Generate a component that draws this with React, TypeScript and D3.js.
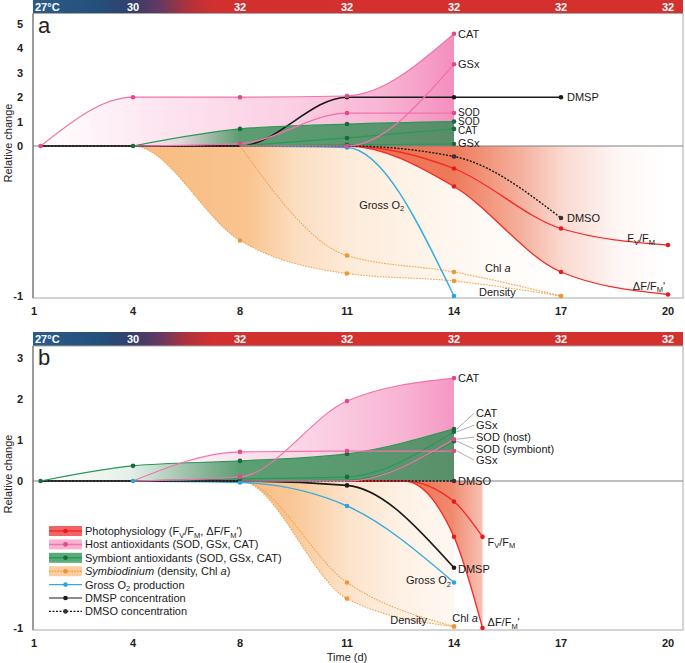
import React from "react";
import * as d3 from "d3";

const W = 685;
const H = 663;
const FONT = "'Liberation Sans', Arial, Helvetica, sans-serif";

const tickDays = [1, 4, 8, 11, 14, 17, 20];
const tempLabels = ["27°C", "30", "32", "32", "32", "32", "32"];
const yTicksA = [-1, 0, 1, 2, 3, 4, 5];
const yTicksB = [-1, 0, 1, 2, 3];

type Group = "photo" | "host" | "sym" | "symbio" | "o2" | "dmsp" | "dmso";
type Series = { group: Group; days: number[]; values: number[]; firstDot: number };

// ---- panel a ----
const aHostCAT: Series = { group: "host", days: [1.2, 4, 8, 11, 14], values: [0, 2, 2, 2.05, 4.6], firstDot: 0 };
const aHostSOD: Series = { group: "host", days: [4, 8, 11, 14], values: [0, 0.1, 1.35, 1.35], firstDot: 1 };
const aHostGSx: Series = { group: "host", days: [8, 11, 14], values: [0, 0, 3.35], firstDot: 1 };
const aSymSOD: Series = { group: "sym", days: [4, 8, 11, 14], values: [0, 0.7, 0.9, 1.0], firstDot: 0 };
const aSymCAT: Series = { group: "sym", days: [8, 11, 14], values: [0, 0.33, 0.7], firstDot: 1 };
const aSymGSx: Series = { group: "sym", days: [8, 11, 14], values: [0, 0.05, 0.08], firstDot: 1 };
const aFvFm: Series = { group: "photo", days: [8, 11, 14, 17, 20], values: [0, 0, -0.15, -0.55, -0.66], firstDot: 2 };
const aDFFm: Series = { group: "photo", days: [8, 11, 14, 17, 20], values: [0, 0, -0.27, -0.84, -0.99], firstDot: 2 };
const aDensity: Series = { group: "symbio", days: [1.2, 4, 8, 11, 14, 17], values: [0, 0, -0.63, -0.85, -0.9, -1.0], firstDot: 2 };
const aChl: Series = { group: "symbio", days: [8, 11, 14, 17], values: [0, -0.73, -0.84, -1.0], firstDot: 1 };
const aO2: Series = { group: "o2", days: [8, 11, 14], values: [0, -0.01, -1.0], firstDot: 1 };
const aDMSP: Series = { group: "dmsp", days: [1.2, 8, 11, 14, 17], values: [0, 0, 2, 2, 2], firstDot: 2 };
const aDMSO: Series = { group: "dmso", days: [1.2, 11, 14, 17], values: [0, 0, -0.07, -0.48], firstDot: 2 };

// ---- panel b ----
const bHostCAT: Series = { group: "host", days: [4, 8, 11, 14], values: [0, 0.1, 1.95, 2.51], firstDot: 1 };
const bHostGSx: Series = { group: "host", days: [4, 8, 11, 14], values: [0, 0.71, 0.73, 0.73], firstDot: 1 };
const bHostSOD: Series = { group: "host", days: [8, 11, 14], values: [0, 0, 1.02], firstDot: 2 };
const bSymCAT: Series = { group: "sym", days: [1.2, 4, 8, 11, 14], values: [0, 0.37, 0.49, 0.66, 1.27], firstDot: 0 };
const bSymGSx: Series = { group: "sym", days: [4, 8, 11, 14], values: [0, 0.05, 0.1, 1.2], firstDot: 1 };
const bSymSOD: Series = { group: "sym", days: [8, 11, 14], values: [0, 0.02, 0.97], firstDot: 2 };
const bFvFm: Series = { group: "photo", days: [11, 12.6, 14, 14.8], values: [0, 0, -0.14, -0.38], firstDot: 2 };
const bDFFm: Series = { group: "photo", days: [11, 12.6, 14, 14.8], values: [0, 0, -0.38, -1.0], firstDot: 2 };
const bDensity: Series = { group: "symbio", days: [4, 8, 11, 14], values: [0, 0, -0.8, -0.99], firstDot: 2 };
const bChl: Series = { group: "symbio", days: [4, 8, 11, 14], values: [0, 0, -0.69, -0.99], firstDot: 2 };
const bO2: Series = { group: "o2", days: [4, 8, 11, 14], values: [0, -0.01, -0.17, -0.69], firstDot: 0 };
const bDMSP: Series = { group: "dmsp", days: [1.2, 8, 11, 14], values: [0, 0, -0.03, -0.59], firstDot: 2 };
const bDMSO: Series = { group: "dmso", days: [1.2, 14], values: [0, 0], firstDot: 1 };

const legendGroups: Group[] = ["photo", "host", "sym", "symbio", "o2", "dmsp", "dmso"];
const legendNames = [
  "Photophysiology (F_V/F_M, ΔF/F_M')",
  "Host antioxidants (SOD, GSx, CAT)",
  "Symbiont antioxidants (SOD, GSx, CAT)",
  "*Symbiodinium* (density, Chl *a*)",
  "Gross O_2 production",
  "DMSP concentration",
  "DMSO concentration",
];

const groupStyle: Record<Group, { line: string; dot: string; band?: string; dash?: string; width: number }> = {
  photo: { line: "#f42a2a", dot: "#e41c1c", band: "#f24848", width: 1.3 },
  host: { line: "#f372ab", dot: "#e2488b", band: "#f7a8ca", width: 1.2 },
  sym: { line: "#2a9858", dot: "#176b3b", band: "#3c9c60", width: 1.2 },
  symbio: { line: "#f5a24c", dot: "#f29335", band: "#fbc48e", dash: "1.6,1.2", width: 1.1 },
  o2: { line: "#35ace0", dot: "#2ba4dc", width: 1.4 },
  dmsp: { line: "#1a1a1a", dot: "#1a1a1a", width: 1.6 },
  dmso: { line: "#1a1a1a", dot: "#333333", dash: "2,1.5", width: 1.4 },
};

// x: tick days sit evenly spaced (the first interval is narrower)
const xStep = d3.scalePoint<number>().domain(tickDays.slice(1)).range([133, 668]);
const X = d3
  .scaleLinear()
  .domain(tickDays)
  .range([34, ...tickDays.slice(1).map((d) => xStep(d) as number)]);
const X0 = 33;
const X1 = 683;

const tempStops: [number, string][] = [
  [1, "#2c5b88"], [3, "#234f7b"], [4, "#353f6b"], [5, "#663862"], [6, "#ae323c"], [7, "#d2302f"], [20, "#d4302e"],
];

type Lab = { text: string; day: number; value: number; dx: number; dy: number; anchor?: "start" | "end"; size?: number };
type Leader = { text: string; day: number; value: number; labelValue: number };
type Fill = { id: string; s: Series[]; from: number; to: number; stops: [number, string, number][] };
type PanelCfg = {
  letter: string;
  barTop: number;
  barH: number;
  bottom: number;
  yDomain: number[];
  yRange: number[];
  yTicks: number[];
  yLabelCenter: number;
  tickLabelY: number;
  fills: Fill[];
  series: Series[];
  labels: Lab[];
  leaders: Leader[];
  legend: boolean;
};

const pinkA: [number, string, number][] = [[0, "#ffffff", 1], [0.3, "#fde4f0", 1], [0.6, "#fbd0e4", 1], [0.82, "#f8b6d4", 1], [1, "#f48fbf", 1]];
const pinkB: [number, string, number][] = [[0, "#ffffff", 1], [0.35, "#fde1ee", 1], [0.6, "#fbcfe3", 1], [0.85, "#f8b2d2", 1], [1, "#f597c3", 1]];
const greenStops: [number, string, number][] = [[0, "#2e8c50", 0], [0.45, "#2e8c50", 0.13], [1, "#2e8c50", 0.78]];
const orangeA: [number, string, number][] = [[0, "#f5a04c", 0.72], [0.27, "#f5a04c", 0.62], [0.38, "#f5a04c", 0.35], [0.52, "#f5a04c", 0.2], [0.75, "#f5a04c", 0.08], [1, "#f5a04c", 0]];
const orangeB: [number, string, number][] = [[0, "#f5a04c", 0.72], [0.25, "#f5a04c", 0.58], [0.5, "#f5a04c", 0.3], [0.75, "#f5a04c", 0.15], [1, "#f5a04c", 0.07]];
const redA: [number, string, number][] = [[0, "#ea5a34", 0.85], [0.33, "#ea5a34", 0.8], [0.55, "#ea5a34", 0.45], [0.68, "#ea5a34", 0.22], [0.85, "#ea5a34", 0.05], [1, "#ea5a34", 0]];
const redB: [number, string, number][] = [[0, "#ea5a34", 0.85], [0.4, "#ea5a34", 0.7], [0.7, "#ea5a34", 0.3], [1, "#ea5a34", 0]];

const panelA: PanelCfg = {
  letter: "a",
  barTop: 0,
  barH: 13.5,
  bottom: 298,
  yDomain: [-1, 0, 5],
  yRange: [296, 146, 24],
  yTicks: yTicksA,
  yLabelCenter: 143,
  tickLabelY: 315,
  fills: [
    { id: "pinkA", s: [aHostCAT], from: 1.2, to: 14, stops: pinkA },
    { id: "greenA", s: [aSymSOD], from: 4, to: 8, stops: greenStops },
    { id: "orangeA", s: [aDensity], from: 4, to: 17, stops: orangeA },
    { id: "redA", s: [aDFFm], from: 11, to: 20, stops: redA },
  ],
  series: [aFvFm, aDFFm, aDensity, aChl, aO2, aDMSO, aDMSP, aSymSOD, aSymCAT, aSymGSx, aHostCAT, aHostSOD, aHostGSx],
  labels: [
    { text: "CAT", day: 14, value: 4.6, dx: 4, dy: 0 },
    { text: "GSx", day: 14, value: 3.35, dx: 4, dy: 0 },
    { text: "SOD", day: 14, value: 1.35, dx: 4, dy: -1.5, size: 10 },
    { text: "SOD", day: 14, value: 1.0, dx: 4, dy: -1, size: 10 },
    { text: "CAT", day: 14, value: 0.7, dx: 4, dy: 1, size: 10 },
    { text: "GSx", day: 14, value: 0.08, dx: 4, dy: -1 },
    { text: "DMSP", day: 17, value: 2, dx: 6, dy: 0 },
    { text: "DMSO", day: 17, value: -0.48, dx: 6, dy: 0 },
    { text: "F_V/F_M", day: 20, value: -0.66, dx: -13, dy: -7, anchor: "end" },
    { text: "ΔF/F_M'", day: 20, value: -0.99, dx: -3, dy: -9, anchor: "end" },
    { text: "Gross O_2", day: 11.34, value: -0.39, dx: 0, dy: 0 },
    { text: "Chl *a*", day: 14.87, value: -0.81, dx: 0, dy: 0 },
    { text: "Density", day: 14.7, value: -0.97, dx: 0, dy: 0 },
  ],
  leaders: [],
  legend: false,
};

const panelB: PanelCfg = {
  letter: "b",
  barTop: 332,
  barH: 14,
  bottom: 630,
  yDomain: [-1, 0, 3],
  yRange: [628, 481, 358],
  yTicks: yTicksB,
  yLabelCenter: 474,
  tickLabelY: 647,
  fills: [
    { id: "pinkB", s: [bHostCAT, bHostGSx], from: 4, to: 14, stops: pinkB },
    { id: "greenB", s: [bSymCAT], from: 1.2, to: 8, stops: greenStops },
    { id: "orangeB", s: [bDensity], from: 8, to: 14, stops: orangeB },
    { id: "redB", s: [bDFFm], from: 12.6, to: 16, stops: redB },
  ],
  series: [bFvFm, bDFFm, bDensity, bChl, bO2, bDMSO, bDMSP, bSymCAT, bSymGSx, bSymSOD, bHostCAT, bHostGSx, bHostSOD],
  labels: [
    { text: "CAT", day: 14, value: 2.51, dx: 4, dy: 0 },
    { text: "DMSO", day: 14, value: 0, dx: 4, dy: 0 },
    { text: "DMSP", day: 14, value: -0.59, dx: 4, dy: 1 },
    { text: "Gross O_2", day: 14, value: -0.69, dx: -3, dy: -2, anchor: "end" },
    { text: "F_V/F_M", day: 14.8, value: -0.38, dx: 5, dy: 5 },
    { text: "ΔF/F_M'", day: 14.8, value: -1.0, dx: 5, dy: -6 },
    { text: "Density", day: 13.24, value: -0.946, dx: 0, dy: 0, anchor: "end" },
    { text: "Chl *a*", day: 13.95, value: -0.93, dx: 0, dy: 0 },
  ],
  leaders: [
    { text: "CAT", day: 14, value: 1.27, labelValue: 1.65 },
    { text: "GSx", day: 14, value: 1.2, labelValue: 1.36 },
    { text: "SOD (host)", day: 14, value: 1.02, labelValue: 1.07 },
    { text: "SOD (symbiont)", day: 14, value: 0.97, labelValue: 0.78 },
    { text: "GSx", day: 14, value: 0.73, labelValue: 0.51 },
  ],
  legend: true,
};

function segs(s: string) {
  const out: { t: string; it: boolean; sub: boolean }[] = [];
  let it = false;
  for (let i = 0; i < s.length; i++) {
    const c = s[i];
    if (c === "*") {
      it = !it;
      continue;
    }
    if (c === "_") {
      out.push({ t: s[i + 1], it, sub: true });
      i++;
      continue;
    }
    const last = out[out.length - 1];
    if (last && !last.sub && last.it === it) last.t += c;
    else out.push({ t: c, it, sub: false });
  }
  return out;
}

function Rich({ s }: { s: string }) {
  let shift = 0;
  return (
    <>
      {segs(s).map((g, i) => {
        const target = g.sub ? 2.5 : 0;
        const dy = target - shift;
        shift = target;
        return (
          <tspan key={i} dy={dy} fontSize={g.sub ? "0.68em" : undefined} fontStyle={g.it ? "italic" : undefined}>
            {g.t}
          </tspan>
        );
      })}
    </>
  );
}

function Panel({ p }: { p: PanelCfg }) {
  const y = d3.scaleLinear().domain(p.yDomain).range(p.yRange);
  const top = p.barTop + p.barH;
  const toPts = (s: Series) => s.days.map((d, i) => [X(d), y(s.values[i])] as [number, number]);
  const line = d3.line().curve(d3.curveMonotoneX);
  const area = d3
    .area<[number, number]>()
    .x((d) => d[0])
    .y0(y(0))
    .y1((d) => d[1])
    .curve(d3.curveMonotoneX);

  return (
    <g>
      <defs>
        {p.fills.map((f) => (
          <linearGradient key={f.id} id={f.id} gradientUnits="userSpaceOnUse" x1={X(f.from)} x2={X(f.to)} y1={0} y2={0}>
            {f.stops.map(([o, c, a], i) => (
              <stop key={i} offset={o} stopColor={c} stopOpacity={a} />
            ))}
          </linearGradient>
        ))}
      </defs>

      {/* temperature bar */}
      <rect x={X0} y={p.barTop} width={X1 - X0} height={p.barH} fill="url(#tempGrad)" />
      {tickDays.map((d, i) => (
        <text
          key={"t" + i}
          x={i === 0 ? X(d) + 1 : X(d)}
          y={p.barTop + p.barH - 3}
          textAnchor={i === 0 ? "start" : "middle"}
          fill="#fff"
          fontSize={11}
          fontWeight="bold"
        >
          {tempLabels[i]}
        </text>
      ))}

      <rect x={X0} y={top} width={X1 - X0} height={p.bottom - top} fill="none" stroke="#a8a8a8" strokeWidth={1} />

      {/* shaded bands */}
      {p.fills.flatMap((f) =>
        f.s.map((s, j) => <path key={f.id + j} d={area(toPts(s)) || ""} fill={`url(#${f.id})`} />)
      )}

      <line x1={X0} x2={X1} y1={y(0)} y2={y(0)} stroke="#808080" strokeWidth={1} />

      {/* lines */}
      {p.series.map((s, i) => {
        const st = groupStyle[s.group];
        return (
          <path
            key={"l" + i}
            d={line(toPts(s)) || ""}
            fill="none"
            stroke={st.line}
            strokeWidth={st.width}
            strokeDasharray={st.dash}
          />
        );
      })}

      {/* dots */}
      {p.series.map((s, i) =>
        toPts(s)
          .slice(s.firstDot)
          .map((pt, j) => <circle key={"d" + i + "_" + j} cx={pt[0]} cy={pt[1]} r={2.3} fill={groupStyle[s.group].dot} />)
      )}

      {/* labels */}
      {p.labels.map((l, i) => (
        <text
          key={"lab" + i}
          x={X(l.day) + l.dx}
          y={y(l.value) + l.dy + 4}
          textAnchor={l.anchor || "start"}
          fontSize={l.size || 11}
          fill="#1a1a1a"
        >
          <Rich s={l.text} />
        </text>
      ))}
      {p.leaders.map((l, i) => (
        <g key={"ld" + i}>
          <line x1={X(l.day) + 3} y1={y(l.value)} x2={X(l.day) + 20} y2={y(l.labelValue)} stroke="#8a8a8a" strokeWidth={0.7} />
          <text x={X(l.day) + 22} y={y(l.labelValue) + 4} fontSize={11} fill="#1a1a1a">
            {l.text}
          </text>
        </g>
      ))}

      {/* axes */}
      <line x1={X0} x2={X0} y1={top} y2={p.bottom} stroke="#777" strokeWidth={1.2} />
      {p.yTicks.map((v) => (
        <text key={"y" + v} x={23} y={y(v) + 4} textAnchor="end" fontSize={11} fontWeight="bold" fill="#222">
          {v}
        </text>
      ))}
      {tickDays.map((d) => (
        <text key={"x" + d} x={X(d)} y={p.tickLabelY} textAnchor="middle" fontSize={11} fontWeight="bold" fill="#222">
          {d}
        </text>
      ))}
      <text transform={`translate(12,${p.yLabelCenter}) rotate(-90)`} textAnchor="middle" fontSize={11} fill="#222">
        Relative change
      </text>
      <text x={38} y={top + 19} fontSize={22} fill="#222">
        {p.letter}
      </text>

      {p.legend &&
        legendGroups.map((g, i) => {
          const cy = 531 + i * 13.4;
          const st = groupStyle[g];
          return (
            <g key={"lg" + g}>
              {st.band && <rect x={49} y={cy - 5} width={33} height={10} fill={st.band} opacity={0.85} />}
              <line x1={49} x2={82} y1={cy} y2={cy} stroke={st.line} strokeWidth={st.band ? 1.5 : 1.2} strokeDasharray={st.dash} />
              <circle cx={65.5} cy={cy} r={2.3} fill={st.dot} />
              <text x={85} y={cy + 4} fontSize={11} fill="#1a1a1a">
                <Rich s={legendNames[i]} />
              </text>
            </g>
          );
        })}
    </g>
  );
}

export default function App() {
  return (
    <svg width={W} height={H} style={{ position: "absolute", left: 0, top: 0, fontFamily: FONT, background: "#fff" }}>
      <defs>
        <linearGradient id="tempGrad" gradientUnits="userSpaceOnUse" x1={X0} x2={X1} y1={0} y2={0}>
          {tempStops.map(([d, c], i) => (
            <stop key={i} offset={(X(d) - X0) / (X1 - X0)} stopColor={c} />
          ))}
        </linearGradient>
      </defs>
      <Panel p={panelA} />
      <Panel p={panelB} />
      <text x={X(11)} y={661} textAnchor="middle" fontSize={11} fill="#222">
        Time (d)
      </text>
    </svg>
  );
}
